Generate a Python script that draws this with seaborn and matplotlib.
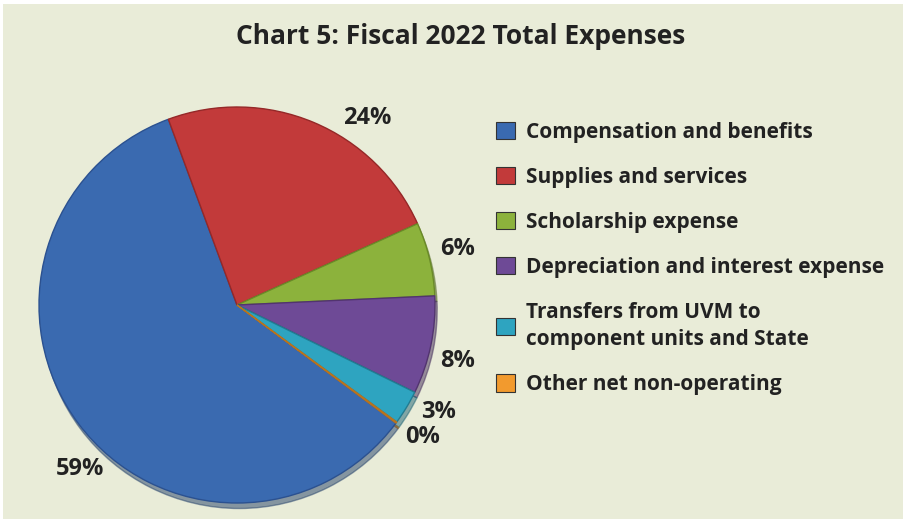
import matplotlib
matplotlib.use("Agg")
import numpy as np
import matplotlib.pyplot as plt
from matplotlib.patches import Rectangle, Patch
import seaborn as sns

# Data
categories = [
    "Compensation and benefits",
    "Supplies and services",
    "Scholarship expense",
    "Depreciation and interest expense",
    "Transfers from UVM to\ncomponent units and State",
    "Other net non-operating",
]
shares = [59.2, 23.9, 6.0, 8.0, 2.8, 0.1]
pct_labels = ["59%", "24%", "6%", "8%", "3%", "0%"]
colors = ["#3a6ab0", "#c23a3a", "#8cb23c", "#6e4a96", "#2ea4c0", "#f29a2e"]
edges = ["#2b5190", "#952828", "#6a8a28", "#52346f", "#217c92", "#b8731e"]

sns.set_theme(style="white")
plt.rcParams["font.family"] = ["Open Sans", "DejaVu Sans"]
text_color = "#222222"

fig = plt.figure(figsize=(9.06, 5.23), dpi=100, facecolor="white")
W, H = 906, 523

# light panel background
fig.patches.append(Rectangle((3 / W, 4 / H), 900 / W, 515 / H, transform=fig.transFigure,
                             facecolor="#e9ecd8", edgecolor="none", zorder=-1))

ax = fig.add_axes([39 / W, (H - 503) / H, 396 / W, 396 / H])
ax.set_facecolor("none")
wedges, _ = ax.pie(
    shares, colors=colors, startangle=-36.6, counterclock=False,
    wedgeprops=dict(linewidth=1.0),
    shadow=dict(ox=0.008, oy=-0.02, shade=0.4),
)
for w, ec in zip(wedges, edges):
    w.set_edgecolor(ec)
ax.set_xlim(-1, 1)
ax.set_ylim(-1, 1)
ax.set_aspect("equal")

# percentage labels just outside each slice (small angle nudges like Excel's best fit)
label_nudge = [9.4, -12.0, 0.7, -2.6, 3.3, 0.9]
for w, lab, nd in zip(wedges, pct_labels, label_nudge):
    mid = np.deg2rad((w.theta1 + w.theta2) / 2 + nd)
    ax.text(1.15 * np.cos(mid), 1.15 * np.sin(mid), lab, ha="center", va="center",
            fontsize=17, fontweight="bold", color=text_color)

fig.text(461 / W, 1 - 37 / H, "Chart 5: Fiscal 2022 Total Expenses", ha="center", va="center",
         fontsize=19, fontweight="bold", color=text_color)

handles = [Patch(facecolor=c, edgecolor="#333333", linewidth=0.8) for c in colors]
leg = fig.legend(handles, categories, loc="upper left", bbox_to_anchor=(477 / W, 1 - 103 / H),
                 frameon=False, fontsize=15, labelspacing=1.15, handlelength=0.92,
                 handleheight=0.92, handletextpad=0.55)
for t in leg.get_texts():
    t.set_fontweight("bold")
    t.set_color(text_color)
    t.set_linespacing(1.4)

fig.savefig("out.png", dpi=100, facecolor="white")
